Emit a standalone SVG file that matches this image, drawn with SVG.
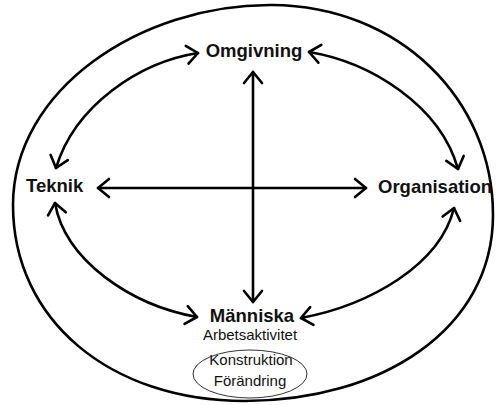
<svg xmlns="http://www.w3.org/2000/svg" width="496" height="405" viewBox="0 0 496 405">
  <style>
    .frame { fill: none; stroke: #000; stroke-width: 2.6; }
    .link { fill: none; stroke: #000; stroke-width: 2.6; stroke-linecap: round; marker-start: url(#arrow); marker-end: url(#arrow); }
    .main { font-family: "Liberation Sans", Arial, sans-serif; font-weight: bold; font-size: 18.5px; fill: #111; }
    .sub { font-family: "Liberation Sans", Arial, sans-serif; font-size: 15px; fill: #111; }
    .inner { fill: none; stroke: #333; stroke-width: 1; }
  </style>
  <defs>
    <marker id="arrow" viewBox="-14 -12 16 24" refX="0" refY="0" markerWidth="16" markerHeight="24" markerUnits="userSpaceOnUse" orient="auto-start-reverse" overflow="visible">
      <path d="M-11,-9 L0,0 L-11,9" fill="none" stroke="#000" stroke-width="2.6" stroke-linecap="round" stroke-linejoin="round"/>
    </marker>
  </defs>

  <rect width="496" height="405" fill="#fff"/>

  <!-- outer boundary -->
  <path class="frame" d="M272,5 C400,6 493,100 493,215 C493,330 380,401 245,401 C110,401 13,320 13,205 C13,90 140,4 272,5 Z"/>

  <!-- connectors -->
  <g id="connectors">
    <line class="link" x1="253" y1="72" x2="253" y2="302"/>
    <line class="link" x1="98" y1="188" x2="366" y2="188"/>
    <path class="link" d="M198,53 C140,62 75,105 56,168"/>
    <path class="link" d="M309,52 C370,62 440,105 458,169"/>
    <path class="link" d="M55,203 C65,260 130,305 197,317"/>
    <path class="link" d="M301,318 C370,305 440,265 454,208"/>
  </g>

  <g id="omgivning">
    <text class="main" x="254" y="57" text-anchor="middle">Omgivning</text>
  </g>
  <g id="teknik">
    <text class="main" x="26" y="192">Teknik</text>
  </g>
  <g id="organisation">
    <text class="main" x="378" y="193">Organisation</text>
  </g>
  <g id="manniska">
    <text class="main" x="252" y="322" text-anchor="middle">Människa</text>
    <text class="sub" x="250" y="339.5" text-anchor="middle">Arbetsaktivitet</text>
  </g>
  <g id="konstruktion">
    <ellipse class="inner" cx="250" cy="374" rx="57" ry="24"/>
    <text class="sub" x="251" y="365" text-anchor="middle">Konstruktion</text>
    <text class="sub" x="250" y="386" text-anchor="middle">Förändring</text>
  </g>
</svg>
